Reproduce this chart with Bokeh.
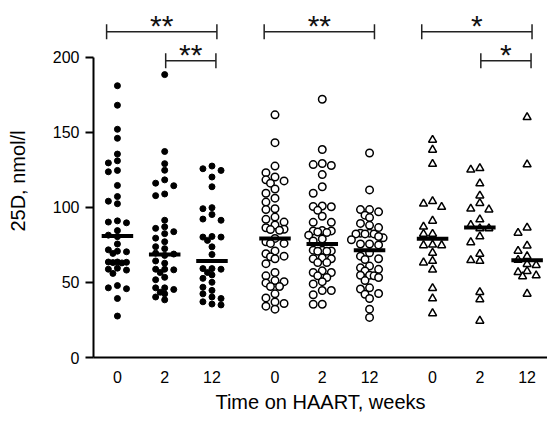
import numpy as np
from bokeh.plotting import figure
from bokeh.models import Range1d, FixedTicker
from bokeh.embed import file_html
from bokeh.resources import INLINE
from bokeh.core.properties import value

# ---------------- data ----------------
time_labels = ["0", "2", "12"]

# group 1 (filled circles), 25D nmol/l at weeks 0, 2, 12
g1_w0 = [181, 168, 152, 146, 135.5, 131, 129.6, 124.6, 123.7, 114.6, 107.2, 104.1,
         102.4, 91, 90.2, 89.7, 84.5, 81.5, 80.5, 75.6, 71.7, 70.8, 70.4, 69.3, 63.6,
         63.2, 63.0, 63.4, 63.6, 59.5, 58.8, 58.2, 56, 47.9, 46.4, 45.8, 39.3, 27.6]
g1_w2 = [188.4, 137.2, 129.1, 124.7, 118.3, 116.1, 114.4, 108.9, 107.8, 91.4, 87, 86,
         83.8, 82.5, 79.5, 77.1, 73.8, 72.5, 69.5, 68.9, 68.0, 64.3, 62.8, 58.8, 58.4,
         58.8, 56.6, 53.4, 51.8, 46.4, 45.3, 46.4, 42.4, 43.5, 40.3, 38.4]
g1_w12 = [127.5, 125.7, 124.6, 120.2, 113.7, 99.8, 99.1, 95.2, 92.2, 91.4, 80.6, 80.2,
          80.2, 78, 73.7, 68.6, 59.2, 58.8, 59.2, 56.6, 55, 52.7, 50.1, 46.8, 44.7,
          42.4, 40.3, 39.3, 37.1, 35, 35.6]

# group 2 (open circles)
g2_w0 = [161.6, 143.1, 127.5, 123.1, 120.2, 118.3, 117.6, 116.1, 112.2, 109.4, 106.1,
         103.5, 99.1, 98.5, 93.5, 92, 90.2, 88.3, 86.4, 85.4, 85.2, 84.7, 79.3, 77.1, 76,
         76, 71, 69.1, 67.5, 67.1, 65.8, 62.5, 56.6, 54.4, 51.2, 50.5, 49.7, 47.3, 47.3,
         42.4, 39.7, 37, 36, 34.2, 32.2]
g2_w2 = [172, 138.5, 129.2, 128.5, 127.9, 121.8, 113.7, 109.4, 100.9, 100.6, 100.4, 98,
         94.1, 90, 90, 84.5, 84.3, 84.3, 83.6, 83.2, 81.5, 79, 77.6, 71.5, 71.5, 71, 70.8,
         70.8, 66.4, 65.8, 65.8, 63.2, 63.2, 57.7, 56.6, 56.6, 54.4, 53.3, 50.5, 49, 44.6,
         44.6, 41.8, 35.5, 35.5]
g2_w12 = [136.2, 111.6, 98.5, 98.5, 97, 94.8, 93.2, 89.3, 88, 86.5, 82.8, 82.8, 82.3,
          82.3, 82.3, 79.7, 80.6, 78.4, 75.6, 75, 75.6, 69.7, 67.5, 65.8, 65.3, 60.9,
          59.7, 58.7, 57.6, 54.8, 54.8, 54.4, 53.3, 51.2, 46.4, 45.6, 42.6, 42.1, 39.3,
          32.2, 26.7]

# group 3 (open triangles)
g3_w0 = [144.9, 138.3, 128.9, 104.1, 102.4, 100.2, 91, 87.1, 82.3, 82.3, 75.1, 74.7,
         74.7, 69.7, 64.3, 63.2, 58.4, 46.2, 39.3, 29.4]
g3_w2 = [126, 125, 115.9, 107.8, 102.8, 99.1, 98.5, 91.9, 88.2, 86, 86, 80.6, 76.7, 69,
         64.3, 64.8, 43.5, 38.7, 24.4]
g3_w12 = [160, 128.5, 86.5, 83, 74.5, 71, 67.4, 65, 62.2, 61.5, 57.5, 56.8, 54.6, 54,
          42.4]

# medians (horizontal bars)
medians_g1 = [81, 68.6, 64.3]
medians_g2 = [79.3, 75.6, 71.4]
medians_g3 = [79.1, 86.5, 64.8]

# significance brackets: group, from-time index, to-time index, label, level (1=top, 0=lower)
sig_group = [0, 0, 1, 2, 2]
sig_from = [0, 1, 0, 0, 1]
sig_to = [2, 2, 2, 2, 2]
sig_text = ["**", "**", "**", "*", "*"]
sig_level = [1, 0, 1, 1, 0]

y_ticks = [0, 50, 100, 150, 200]

# ---------------- layout helpers ----------------
GROUP_PITCH = 160
TIME_STEP = 48
FRAME_H = 353
Y_TOP = 235.1
PX_PER_UNIT_Y = FRAME_H / Y_TOP


def xpos(g, t):
    return GROUP_PITCH * g + TIME_STEP * t


def swarm(vals, ax, ay, step=4.6):
    vals = np.asarray(vals, dtype=float)
    ys = vals * PX_PER_UNIT_Y
    order = np.argsort(-vals)
    cands = [0.0, -2 * step, 2 * step, -step, step]
    for k in range(3, 8):
        cands += [-k * step, k * step]
    placed = []
    offs = np.zeros(len(vals))
    for i in order:
        for c in cands:
            ok = True
            for ox, oy in placed:
                if ((c - ox) / ax) ** 2 + ((ys[i] - oy) / ay) ** 2 < 1.0:
                    ok = False
                    break
            if ok:
                offs[i] = c
                placed.append((c, ys[i]))
                break
    return offs


FONT = "Liberation Sans"

p = figure(width=547, height=420,
           x_range=Range1d(-24.3, 436.7), y_range=Range1d(0, Y_TOP),
           output_backend="svg", toolbar_location=None,
           min_border_left=93, min_border_right=0, min_border_top=4, min_border_bottom=63)
p.outline_line_color = None
p.grid.grid_line_color = None
p.background_fill_color = "white"
p.border_fill_color = "white"

groups = [
    ([g1_w0, g1_w2, g1_w12], medians_g1,
     dict(marker="circle", size=6, fill_color="black", line_color="black", line_width=1), 4.6, 6.0),
    ([g2_w0, g2_w2, g2_w12], medians_g2,
     dict(marker="circle", size=7.5, fill_color="white", line_color="black", line_width=1.5), 4.6, 7.0),
    ([g3_w0, g3_w2, g3_w12], medians_g3,
     dict(marker="triangle", size=8, fill_color="white", line_color="black", line_width=1.5), 4.6, 6.5),
]

med_x, med_y = [], []
for g, (series, meds, style, ax, ay) in enumerate(groups):
    for t, vals in enumerate(series):
        offs = swarm(vals, ax, ay)
        xs = xpos(g, t) + offs
        p.scatter(x=list(xs), y=list(vals), **style)
        med_x.append(xpos(g, t))
        med_y.append(meds[t])

p.rect(x=med_x, y=med_y, width=32, height=4, height_units="screen",
       fill_color="black", line_color=None)

# brackets
TOP_Y, LOW_Y = 217.0, 197.6
TICK_H = 7.5 / PX_PER_UNIT_Y
hx0, hx1, hy, vx, vy0, vy1, sx, sy = [], [], [], [], [], [], [], []
for g, f, t, lvl in zip(sig_group, sig_from, sig_to, sig_level):
    y = TOP_Y if lvl == 1 else LOW_Y
    x0 = xpos(g, f) + (-11 if lvl == 1 else 1)
    x1 = xpos(g, t) + (5 if lvl == 1 else 4)
    hx0.append(x0); hx1.append(x1); hy.append(y)
    vx += [x0, x1]; vy0 += [y - TICK_H, y - TICK_H]; vy1 += [y + TICK_H, y + TICK_H]
    sx.append((x0 + x1) / 2); sy.append(y)

p.segment(x0=hx0, y0=hy, x1=hx1, y1=hy, line_color="#222222", line_width=1.5)
p.segment(x0=vx, y0=vy0, x1=vx, y1=vy1, line_color="#222222", line_width=1.5)
p.text(x=sx, y=sy, text=sig_text, text_font=value(FONT), text_font_size="30px",
       text_align="center", text_baseline="alphabetic", y_offset=-6, text_color="#111111")

# axes
tick_pos = [xpos(g, t) for g in range(3) for t in range(3)]
p.xaxis.ticker = FixedTicker(ticks=tick_pos)
p.xaxis.major_label_overrides = {xpos(g, t): time_labels[t] for g in range(3) for t in range(3)}
p.xaxis.major_tick_line_color = None
p.xaxis.minor_tick_line_color = None
p.xaxis.major_tick_out = 0
p.xaxis.major_tick_in = 0
p.xaxis.major_label_standoff = 13
p.xaxis.axis_label = "Time on HAART, weeks"
p.xaxis.axis_label_standoff = 5

p.yaxis.ticker = FixedTicker(ticks=y_ticks)
p.yaxis.bounds = (0, 200)
p.yaxis.minor_tick_line_color = None
p.yaxis.major_tick_out = 8
p.yaxis.major_tick_in = 0
p.yaxis.major_tick_line_width = 2
p.yaxis.major_label_standoff = 6
p.yaxis.axis_label = "25D, nmol/l"
p.yaxis.axis_label_standoff = 21

for ax_ in (p.xaxis, p.yaxis):
    ax_.axis_line_width = 2
    ax_.axis_line_color = "black"
    ax_.major_label_text_font = FONT
    ax_.major_label_text_font_size = "16px"
    ax_.major_label_text_color = "black"
    ax_.axis_label_text_font = FONT
    ax_.axis_label_text_font_size = "20px"
    ax_.axis_label_text_font_style = "normal"
    ax_.axis_label_text_color = "black"

open("out.html", "w").write(file_html(p, INLINE))
